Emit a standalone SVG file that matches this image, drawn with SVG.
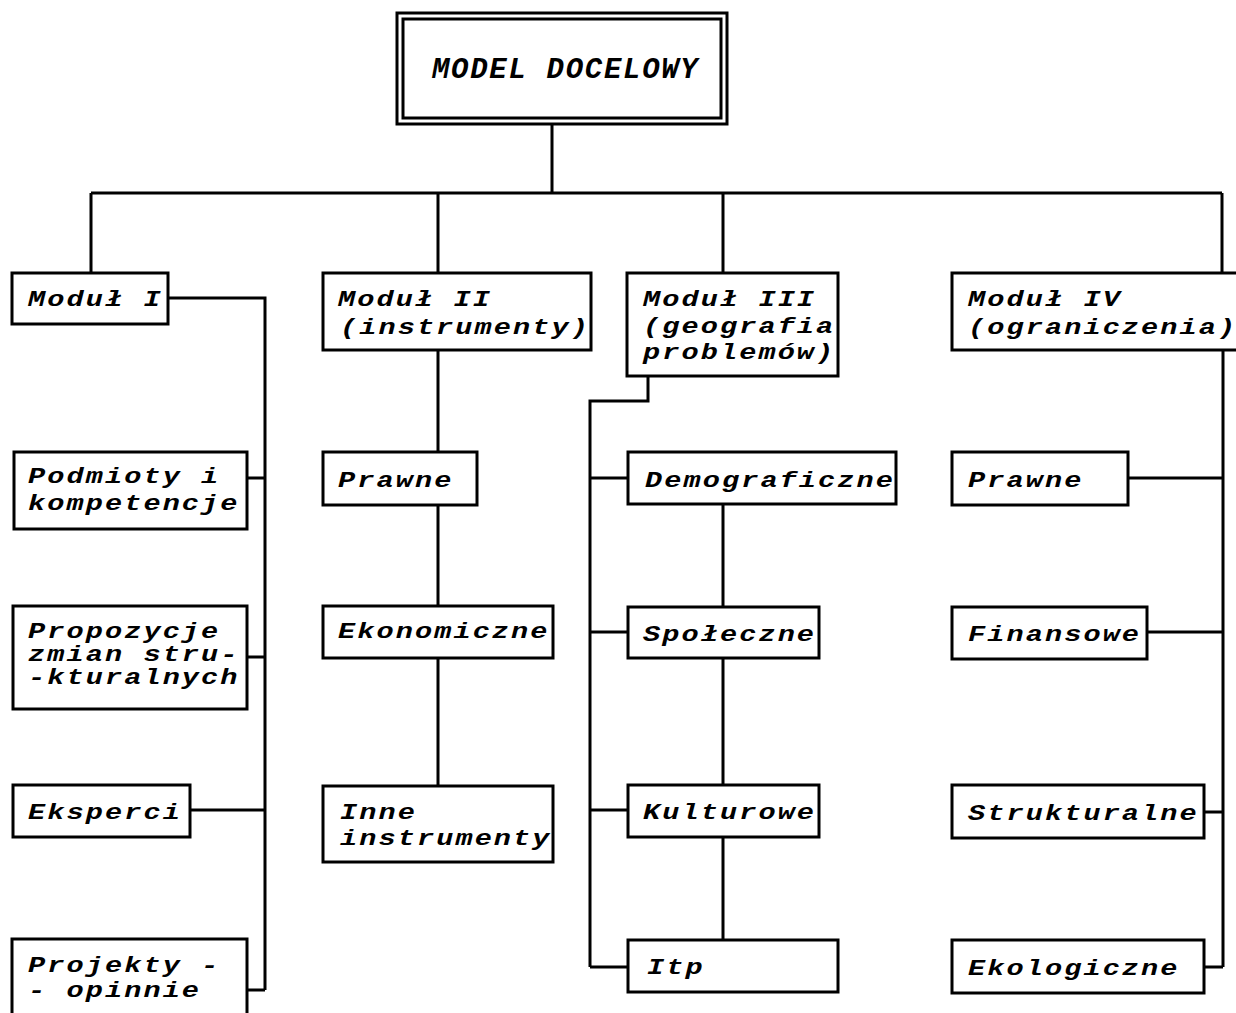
<svg xmlns="http://www.w3.org/2000/svg" width="1236" height="1013" viewBox="0 0 1236 1013">
<style>
.box{fill:#fff;stroke:#000;stroke-width:3}
.c{fill:none;stroke:#000;stroke-width:3}
text{font-family:"Liberation Mono","DejaVu Sans Mono",monospace;font-style:italic;font-weight:bold;font-size:22px;letter-spacing:1.6px;fill:#000}
text.title{font-size:29px;letter-spacing:1.7px}
</style>
<rect width="1236" height="1013" fill="#fff"/>
<g id="connectors">
<path class="c" d="M552,124V193M91,193H1222M91,193V273M438,193V273M723,193V273M1222,193V273"/>
<path class="c" d="M168,298H265V990M247,478H265M247,657H265M190,810H265M247,990H265"/>
<path class="c" d="M438,350V452M438,505V606M438,658V786"/>
<path class="c" d="M648,376V401H590V967M590,478H628M590,632H628M590,810H628M590,967H628M723,504V607M723,658V785M723,837V940"/>
<path class="c" d="M1223,350V967M1128,478H1223M1147,632H1223M1204,812H1223M1204,967H1223"/>
</g>
<g id="root">
<rect class="box" x="397" y="13" width="330" height="111"/>
<rect class="box" x="403" y="19" width="318" height="99"/>
<text class="title" x="432" y="78">MODEL DOCELOWY</text>
</g>
<g id="modul1"><rect class="box" x="12" y="273" width="156" height="51"/><text transform="translate(28,306) scale(1.3,1)">Moduł I</text></g>
<g id="podmioty"><rect class="box" x="14" y="452" width="233" height="77"/><text transform="translate(28,483) scale(1.3,1)">Podmioty i<tspan x="0" y="27">kompetencje</tspan></text></g>
<g id="propozycje"><rect class="box" x="13" y="606" width="234" height="103"/><text transform="translate(28,638) scale(1.3,1)">Propozycje<tspan x="0" y="23">zmian stru-</tspan><tspan x="0" y="46">-kturalnych</tspan></text></g>
<g id="eksperci"><rect class="box" x="13" y="785" width="177" height="52"/><text transform="translate(28,819) scale(1.3,1)">Eksperci</text></g>
<g id="projekty"><rect class="box" x="12" y="939" width="235" height="90"/><text transform="translate(28,972) scale(1.3,1)">Projekty -<tspan x="0" y="25">- opinnie</tspan></text></g>
<g id="modul2"><rect class="box" x="323" y="273" width="268" height="77"/><text transform="translate(338,306) scale(1.3,1)">Moduł II<tspan x="1.5" y="28">(instrumenty)</tspan></text></g>
<g id="prawne2"><rect class="box" x="323" y="452" width="154" height="53"/><text transform="translate(338,487) scale(1.3,1)">Prawne</text></g>
<g id="ekonomiczne"><rect class="box" x="323" y="606" width="230" height="52"/><text transform="translate(338,638) scale(1.3,1)">Ekonomiczne</text></g>
<g id="inne"><rect class="box" x="323" y="786" width="230" height="76"/><text transform="translate(340,819) scale(1.3,1)">Inne<tspan x="0" y="26">instrumenty</tspan></text></g>
<g id="modul3"><rect class="box" x="627" y="273" width="211" height="103"/><text transform="translate(643,306) scale(1.3,1)">Moduł III<tspan x="0" y="27">(geografia</tspan><tspan x="0" y="53">problemów)</tspan></text></g>
<g id="demograficzne"><rect class="box" x="628" y="452" width="268" height="52"/><text transform="translate(645,487) scale(1.3,1)">Demograficzne</text></g>
<g id="spoleczne"><rect class="box" x="628" y="607" width="191" height="51"/><text transform="translate(643,641) scale(1.3,1)">Społeczne</text></g>
<g id="kulturowe"><rect class="box" x="628" y="785" width="191" height="52"/><text transform="translate(643,819) scale(1.3,1)">Kulturowe</text></g>
<g id="itp"><rect class="box" x="628" y="940" width="210" height="52"/><text transform="translate(647,974) scale(1.3,1)">Itp</text></g>
<g id="modul4"><rect class="box" x="952" y="273" width="290" height="77"/><text transform="translate(968,306) scale(1.3,1)">Moduł IV<tspan x="0" y="28">(ograniczenia)</tspan></text></g>
<g id="prawne4"><rect class="box" x="952" y="452" width="176" height="53"/><text transform="translate(968,487) scale(1.3,1)">Prawne</text></g>
<g id="finansowe"><rect class="box" x="952" y="607" width="195" height="52"/><text transform="translate(968,641) scale(1.3,1)">Finansowe</text></g>
<g id="strukturalne"><rect class="box" x="952" y="785" width="252" height="53"/><text transform="translate(968,820) scale(1.3,1)">Strukturalne</text></g>
<g id="ekologiczne"><rect class="box" x="952" y="940" width="252" height="53"/><text transform="translate(968,975) scale(1.3,1)">Ekologiczne</text></g>
</svg>
